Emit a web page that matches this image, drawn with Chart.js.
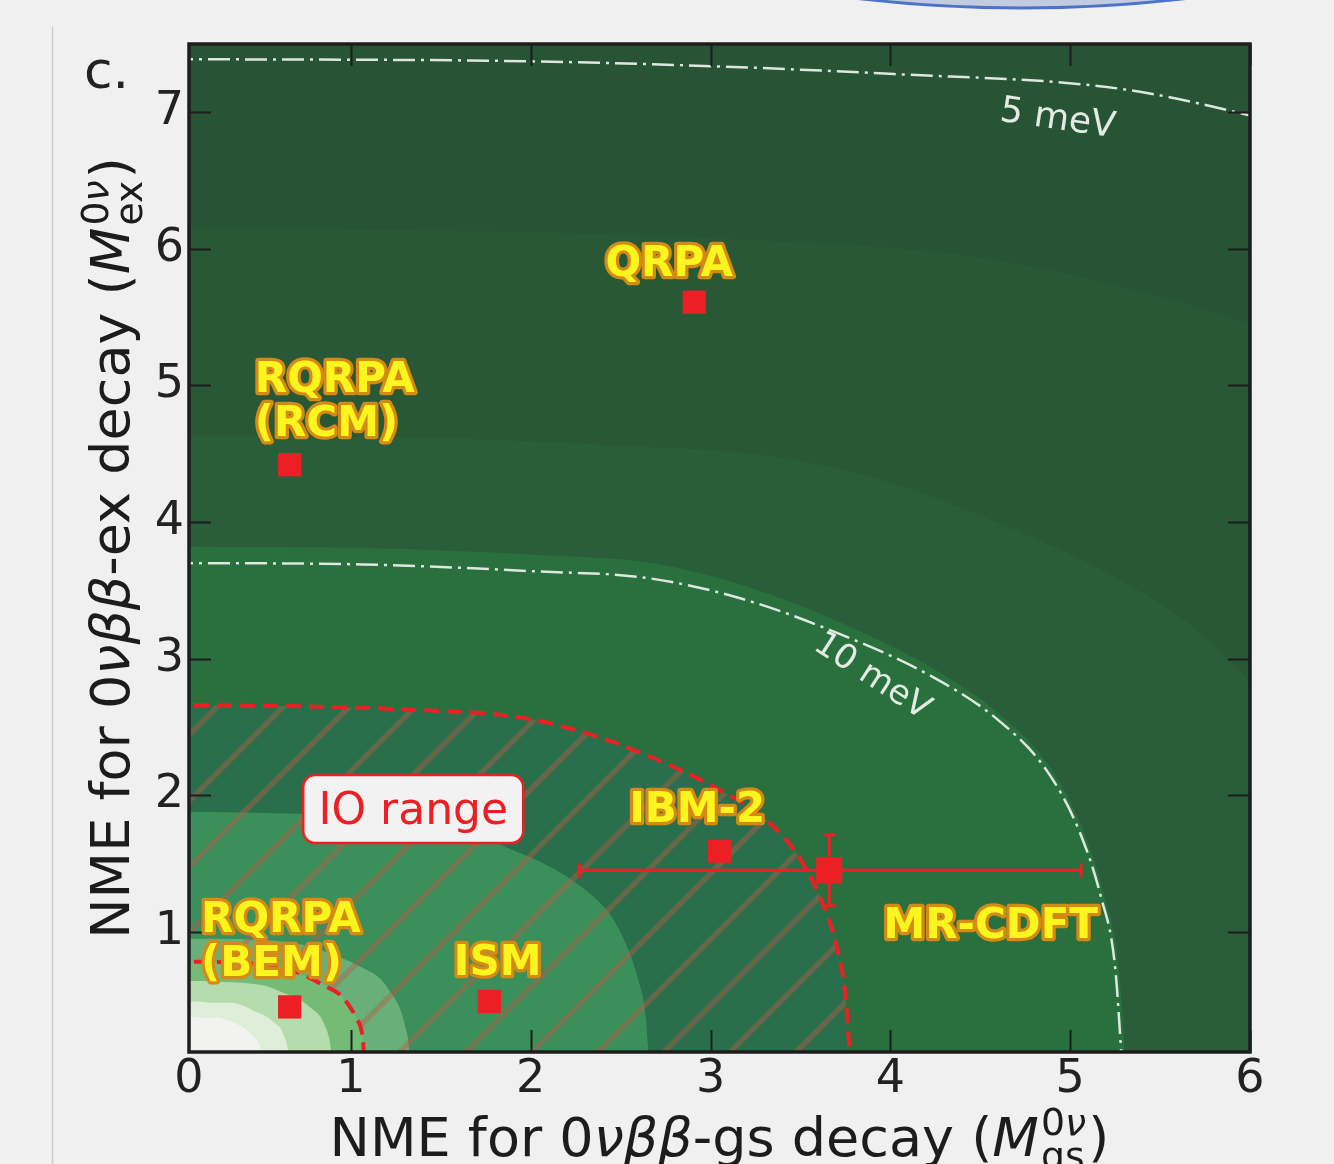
<!DOCTYPE html>
<html>
<head>
<meta charset="utf-8">
<script src="https://cdn.jsdelivr.net/npm/chart.js@4.4.0/dist/chart.umd.min.js"></script>
<style>
  html, body { margin: 0; padding: 0; background: #f0f0f0; }
  #wrap { width: 1334px; height: 1164px; }
</style>
</head>
<body>
<div id="wrap"><canvas id="nme" width="1334" height="1164"></canvas></div>
<script>
// ---------------------------------------------------------------
// NME (gs) vs NME (ex) plane
// ---------------------------------------------------------------

// axis ticks (the left edge of the x axis sits at 0.1 but is labelled 0)
const xTickValues = [0.1, 1, 2, 3, 4, 5, 6];
const xTickLabels = ['0', '1', '2', '3', '4', '5', '6'];
const yTickValues = [1, 2, 3, 4, 5, 6, 7];
const yTickLabels = ['1', '2', '3', '4', '5', '6', '7'];

// model calculations
const modelNames = ['QRPA', 'RQRPA (RCM)', 'RQRPA (BEM)', 'ISM', 'IBM-2', 'MR-CDFT'];
const modelGs = [2.91, 0.66, 0.66, 1.77, 3.05, 3.66];
const modelEx = [5.61, 4.42, 0.45, 0.49, 1.59, 1.45];
const cdftGsRange = [2.27, 5.06];
const cdftExRange = [1.19, 1.71];

// filled contour edges, outermost first  [M_gs, M_ex]
const bandEdge1 = [[0, 6.15], [1.75, 6.13], [3.32, 6.06], [4.37, 5.96], [5.24, 5.74], [6.11, 5.40], [6.98, 4.95]];
const bandEdge2 = [[0, 4.63], [1.32, 4.62], [2.50, 4.56], [3.29, 4.49], [3.95, 4.31], [4.61, 3.99], [5.26, 3.59], [5.72, 3.19], [6.05, 2.73], [6.28, 2.18], [6.44, 1.57], [6.53, 0.93], [6.58, 0]];
const bandEdge3 = [[0, 3.82], [1.07, 3.81], [2.03, 3.76], [2.67, 3.70], [3.20, 3.53], [3.73, 3.26], [4.26, 2.91], [4.62, 2.58], [4.89, 2.20], [5.07, 1.75], [5.19, 1.26], [5.27, 0.74], [5.31, 0]];
const bandEdge4 = [[0, 1.88], [0.53, 1.87], [1.01, 1.85], [1.33, 1.82], [1.60, 1.75], [1.86, 1.62], [2.13, 1.46], [2.31, 1.30], [2.45, 1.11], [2.54, 0.88], [2.60, 0.64], [2.64, 0.38], [2.66, 0]];
const bandEdge5 = [[0, 0.95], [0.27, 0.95], [0.51, 0.94], [0.67, 0.92], [0.80, 0.88], [0.93, 0.82], [1.06, 0.74], [1.16, 0.66], [1.22, 0.56], [1.27, 0.45], [1.30, 0.32], [1.32, 0.19], [1.33, 0]];
const bandEdge6 = [[0, 0.64], [0.18, 0.64], [0.34, 0.63], [0.45, 0.62], [0.54, 0.60], [0.63, 0.55], [0.72, 0.50], [0.78, 0.44], [0.83, 0.38], [0.86, 0.30], [0.88, 0.22], [0.89, 0.13], [0.90, 0]];
const bandEdge7 = [[0, 0.49], [0.13, 0.49], [0.25, 0.48], [0.33, 0.48], [0.40, 0.46], [0.46, 0.42], [0.53, 0.38], [0.57, 0.34], [0.61, 0.29], [0.63, 0.23], [0.645, 0.17], [0.655, 0.10], [0.66, 0]];
const bandEdge8 = [[0, 0.38], [0.10, 0.38], [0.19, 0.37], [0.26, 0.37], [0.31, 0.35], [0.36, 0.33], [0.41, 0.29], [0.44, 0.26], [0.47, 0.22], [0.49, 0.18], [0.50, 0.13], [0.505, 0.08], [0.51, 0]];

// contour lines
const meV5Line = [[0, 7.39], [2.12, 7.37], [4.02, 7.28], [5.29, 7.17], [6.35, 6.87]];
const meV10Line = [[0, 3.70], [1.06, 3.69], [2.01, 3.64], [2.65, 3.59], [3.17, 3.44], [3.70, 3.19], [4.23, 2.87], [4.60, 2.55], [4.87, 2.18], [5.05, 1.74], [5.17, 1.26], [5.25, 0.74], [5.29, 0]];
const ioUpperEdge = [[0, 2.66], [0.76, 2.65], [1.44, 2.62], [1.89, 2.58], [2.27, 2.47], [2.65, 2.29], [3.02, 2.06], [3.29, 1.84], [3.48, 1.57], [3.61, 1.25], [3.70, 0.90], [3.75, 0.53], [3.78, 0]];
const ioLowerEdge = [[0, 0.78], [0.22, 0.78], [0.41, 0.77], [0.54, 0.76], [0.65, 0.73], [0.76, 0.67], [0.86, 0.60], [0.94, 0.54], [0.99, 0.46], [1.03, 0.37], [1.06, 0.27], [1.07, 0.16], [1.08, 0]];

// ---------------------------------------------------------------
const bandColors = ['#285836', '#2a5d39', '#2a6f3e', '#3e9551', '#74bb75', '#b5dcad', '#dfeed9', '#f2f2f0'];
const RED = '#ec2024';
const FONT = "'DejaVu Sans', sans-serif";

// annotation anchors (data units)
const modelLabels = [
  { lines: ['QRPA'], x: 2.77, y: 5.80, align: 'center' },
  { lines: ['RQRPA', '(RCM)'], x: 0.466, y: 4.954, align: 'left' },
  { lines: ['RQRPA', '(BEM)'], x: 0.167, y: 0.998, align: 'left' },
  { lines: ['ISM'], x: 1.816, y: 0.683, align: 'center' },
  { lines: ['IBM-2'], x: 2.926, y: 1.804, align: 'center' },
  { lines: ['MR-CDFT'], x: 4.558, y: 0.954, align: 'center' }
];
const levelLabels = [
  { text: '5 meV', x: 4.93, y: 6.946, angle: 8.4, size: 36 },
  { text: '10 meV', x: 3.897, y: 2.866, angle: 33, size: 34 }
];
const ioBox = { text: 'IO range', x: 1.347, y: 1.899 };

const xTitleRuns = [
  { t: 'NME for 0' }, { t: 'νββ', it: true }, { t: '-gs decay (' }, { t: 'M', it: true },
  { sup: [{ t: '0' }, { t: 'ν', it: true }], sub: 'gs' }, { t: ')' }
];
const yTitleRuns = [
  { t: 'NME for 0' }, { t: 'νββ', it: true }, { t: '-ex decay (' }, { t: 'M', it: true },
  { sup: [{ t: '0' }, { t: 'ν', it: true }], sub: 'ex' }, { t: ')' }
];

const toXY = pts => pts.map(p => ({ x: p[0], y: p[1] }));

// diagonal hatch for the IO band
function makeHatch() {
  const T = 66;
  const c = document.createElement('canvas');
  c.width = T; c.height = T;
  const g = c.getContext('2d');
  g.fillStyle = 'rgba(45,115,140,0.16)';
  g.fillRect(0, 0, T, T);
  g.strokeStyle = 'rgba(185,90,70,0.42)';
  g.lineWidth = 5.5;
  g.beginPath();
  [0, T, 2 * T].forEach(k => {
    g.moveTo(-6, k + 6);
    g.lineTo(T + 6, k - T - 6);
  });
  g.stroke();
  return g.createPattern(c, 'repeat');
}

function fontOf(size, italic, bold) {
  return (italic ? 'italic ' : '') + (bold ? 'bold ' : '') + size + 'px ' + FONT;
}

function runWidth(ctx, run, size) {
  if (run.sup) {
    const s = size * 0.7;
    let w1 = 0;
    run.sup.forEach(p => { ctx.font = fontOf(s, p.it); w1 += ctx.measureText(p.t).width; });
    ctx.font = fontOf(s, false);
    const w2 = ctx.measureText(run.sub).width;
    return Math.max(w1, w2) + size * 0.08;
  }
  ctx.font = fontOf(size, run.it);
  return ctx.measureText(run.t).width;
}

function drawRich(ctx, runs, cx, baseline, size) {
  const total = runs.reduce((a, r) => a + runWidth(ctx, r, size), 0);
  let x = cx - total / 2;
  ctx.textAlign = 'left';
  ctx.textBaseline = 'alphabetic';
  runs.forEach(r => {
    const w = runWidth(ctx, r, size);
    if (r.sup) {
      const s = size * 0.7;
      let xx = x + size * 0.04;
      r.sup.forEach(p => {
        ctx.font = fontOf(s, p.it);
        ctx.fillText(p.t, xx, baseline - size * 0.38);
        xx += ctx.measureText(p.t).width;
      });
      ctx.font = fontOf(s, false);
      ctx.fillText(r.sub, x + size * 0.04, baseline + size * 0.24);
    } else {
      ctx.font = fontOf(size, r.it);
      ctx.fillText(r.t, x, baseline);
    }
    x += w;
  });
}

const decor = {
  id: 'decor',
  beforeDraw(chart) {
    const { ctx, chartArea: a } = chart;
    ctx.save();
    ctx.fillStyle = '#f0f0f0';
    ctx.fillRect(0, 0, chart.width, chart.height);
    // bits of the surrounding page
    ctx.strokeStyle = '#cbcbcb';
    ctx.lineWidth = 1.3;
    ctx.beginPath();
    ctx.moveTo(52.5, 27);
    ctx.lineTo(52.5, chart.height);
    ctx.stroke();
    ctx.beginPath();
    ctx.ellipse(1022, -112, 420, 120, 0, 0, Math.PI * 2);
    ctx.fillStyle = '#c3cbe0';
    ctx.fill();
    ctx.strokeStyle = '#4d73c9';
    ctx.lineWidth = 3;
    ctx.stroke();
    // outermost contour level
    ctx.fillStyle = '#275434';
    ctx.fillRect(a.left, a.top, a.right - a.left, a.bottom - a.top);
    ctx.restore();
  },
  afterDatasetsDraw(chart) {
    const { ctx, chartArea: a } = chart;
    const xs = chart.scales.x, ys = chart.scales.y;
    ctx.save();

    // frame + inward ticks on all four sides
    ctx.strokeStyle = '#1d1d1d';
    ctx.lineWidth = 2;
    ctx.beginPath();
    xTickValues.filter(v => v >= 1).forEach(v => {
      const px = Math.round(xs.getPixelForValue(v)) + 0.5;
      ctx.moveTo(px, a.bottom); ctx.lineTo(px, a.bottom - 22);
      ctx.moveTo(px, a.top); ctx.lineTo(px, a.top + 22);
    });
    yTickValues.forEach(v => {
      const py = Math.round(ys.getPixelForValue(v)) + 0.5;
      ctx.moveTo(a.left, py); ctx.lineTo(a.left + 22, py);
      ctx.moveTo(a.right, py); ctx.lineTo(a.right - 22, py);
    });
    ctx.stroke();
    ctx.lineWidth = 3.5;
    ctx.strokeRect(a.left, a.top, a.right - a.left, a.bottom - a.top);

    // contour level labels
    ctx.fillStyle = '#e3ebe3';
    ctx.textAlign = 'center';
    ctx.textBaseline = 'middle';
    levelLabels.forEach(l => {
      ctx.save();
      ctx.translate(xs.getPixelForValue(l.x), ys.getPixelForValue(l.y));
      ctx.rotate(l.angle * Math.PI / 180);
      ctx.font = fontOf(l.size, false);
      ctx.fillText(l.text, 0, 0);
      ctx.restore();
    });

    // IO range box
    const bx = xs.getPixelForValue(ioBox.x), by = ys.getPixelForValue(ioBox.y);
    ctx.beginPath();
    ctx.roundRect(bx - 110, by - 34, 220, 68, 12);
    ctx.fillStyle = '#f2f2f2';
    ctx.fill();
    ctx.strokeStyle = RED;
    ctx.lineWidth = 2.5;
    ctx.stroke();
    ctx.fillStyle = RED;
    ctx.font = fontOf(44, false);
    ctx.textAlign = 'center';
    ctx.textBaseline = 'alphabetic';
    ctx.fillText(ioBox.text, bx, by + 15);

    // model names
    ctx.font = fontOf(42, false, true);
    ctx.lineJoin = 'round';
    modelLabels.forEach(l => {
      const px = xs.getPixelForValue(l.x), py = ys.getPixelForValue(l.y);
      ctx.textAlign = l.align;
      l.lines.forEach((t, k) => {
        const yy = py + k * 44;
        ctx.lineWidth = 6.5;
        ctx.strokeStyle = '#d68a16';
        ctx.strokeText(t, px, yy);
        ctx.fillStyle = '#fcf51e';
        ctx.fillText(t, px, yy);
      });
    });
    ctx.restore();
  },
  afterDraw(chart) {
    const { ctx, chartArea: a } = chart;
    ctx.save();
    ctx.fillStyle = '#1c1c1c';
    drawRich(ctx, xTitleRuns, (a.left + a.right) / 2, 1156, 54);
    ctx.translate(129, (a.top + a.bottom) / 2);
    ctx.rotate(-Math.PI / 2);
    drawRich(ctx, yTitleRuns, 0, 0, 54);
    ctx.restore();
    ctx.save();
    ctx.fillStyle = '#222';
    ctx.font = fontOf(52, false);
    ctx.textAlign = 'left';
    ctx.textBaseline = 'alphabetic';
    ctx.fillText('c.', 84, 88);
    ctx.restore();
  }
};

// ---------------------------------------------------------------
const hatch = makeHatch();
const datasets = [];

const bandEdges = [bandEdge1, bandEdge2, bandEdge3, bandEdge4, bandEdge5, bandEdge6, bandEdge7, bandEdge8];
bandEdges.forEach((edge, i) => {
  datasets.push({
    data: toXY(edge),
    fill: 'start',
    backgroundColor: bandColors[i],
    borderColor: 'rgba(0,0,0,0)',
    borderWidth: 0,
    pointRadius: 0,
    cubicInterpolationMode: 'monotone',
    order: 40 - i
  });
});

// IO range: hatched between the two red dashed curves
const ioLowerIndex = datasets.length + 1;
datasets.push({
  data: toXY(ioUpperEdge),
  fill: ioLowerIndex,
  backgroundColor: hatch,
  borderColor: RED,
  borderWidth: 4,
  borderDash: [15, 8],
  pointRadius: 0,
  cubicInterpolationMode: 'monotone',
  order: 12
});
datasets.push({
  data: toXY(ioLowerEdge.concat([[ioUpperEdge[ioUpperEdge.length - 1][0] + 0.4, 0]])),
  fill: false,
  borderColor: RED,
  borderWidth: 4,
  borderDash: [15, 8],
  pointRadius: 0,
  cubicInterpolationMode: 'monotone',
  order: 11
});

[meV5Line, meV10Line].forEach((line, i) => {
  datasets.push({
    data: toXY(line),
    fill: false,
    borderColor: 'rgba(232,238,232,0.95)',
    borderWidth: 2.5,
    borderDash: [22, 6, 3, 6],
    pointRadius: 0,
    cubicInterpolationMode: 'monotone',
    order: 10 - i
  });
});

// MR-CDFT error bars
datasets.push({
  data: [{ x: cdftGsRange[0], y: modelEx[5] }, { x: cdftGsRange[1], y: modelEx[5] }],
  fill: false,
  borderColor: RED,
  borderWidth: 3,
  pointStyle: 'line',
  pointRotation: 90,
  pointRadius: 7,
  pointBorderColor: RED,
  pointBorderWidth: 3,
  order: 5
});
datasets.push({
  data: [{ x: modelGs[5], y: cdftExRange[0] }, { x: modelGs[5], y: cdftExRange[1] }],
  fill: false,
  borderColor: RED,
  borderWidth: 3,
  pointStyle: 'line',
  pointRotation: 0,
  pointRadius: 6,
  pointBorderColor: RED,
  pointBorderWidth: 3,
  order: 4
});

// model points
datasets.push({
  label: 'models',
  data: modelGs.map((g, i) => ({ x: g, y: modelEx[i] })),
  showLine: false,
  fill: false,
  pointStyle: 'rect',
  pointRadius: [16.5, 16.5, 16.5, 16.5, 16.5, 18.5],
  pointBackgroundColor: RED,
  pointBorderWidth: 0,
  order: 2
});

const tickFont = { family: FONT, size: 46 };

new Chart(document.getElementById('nme'), {
  type: 'line',
  data: { datasets },
  options: {
    responsive: false,
    animation: false,
    events: [],
    layout: { padding: { left: 0, top: 44, right: 84, bottom: 0 } },
    elements: { line: { capBezierPoints: false } },
    plugins: { legend: { display: false }, tooltip: { enabled: false } },
    scales: {
      x: {
        type: 'linear',
        min: 0.1,
        max: 6,
        grid: { display: false, drawTicks: false },
        border: { display: false },
        afterBuildTicks: s => { s.ticks = xTickValues.map(v => ({ value: v })); },
        afterFit: s => { s.height = 112; },
        ticks: {
          autoSkip: false,
          maxRotation: 0,
          padding: 0,
          color: '#222',
          font: tickFont,
          callback: (v, i) => xTickLabels[i]
        }
      },
      y: {
        type: 'linear',
        min: 0.12,
        max: 7.5,
        grid: { display: false, drawTicks: false },
        border: { display: false },
        afterBuildTicks: s => { s.ticks = yTickValues.map(v => ({ value: v })); },
        afterFit: s => { s.width = 189; },
        ticks: {
          autoSkip: false,
          padding: 5,
          color: '#222',
          font: tickFont,
          callback: (v, i) => yTickLabels[i]
        }
      }
    }
  },
  plugins: [decor]
});
</script>
</body>
</html>
